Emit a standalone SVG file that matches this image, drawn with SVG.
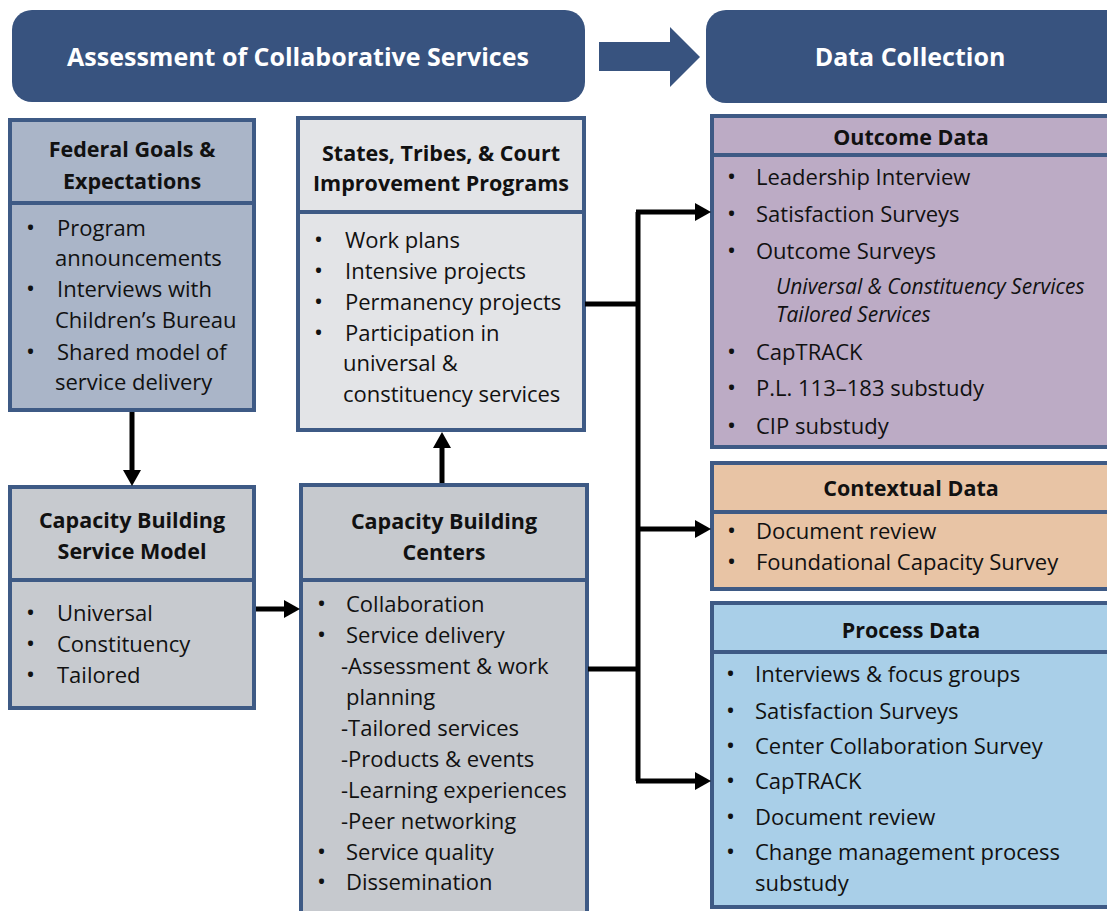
<svg xmlns="http://www.w3.org/2000/svg" width="1107" height="911" viewBox="0 0 1107 911">
<defs>
<style>
.hdr{fill:#38537f}
.hdrt{font-family:"Open Sans","Liberation Sans",sans-serif;font-weight:bold;font-size:25px;fill:#ffffff;text-anchor:middle}
.box{stroke:#3e5a85;stroke-width:4}
.div{stroke:#3e5a85;stroke-width:4;fill:none}
.ttl{font-family:"Open Sans","Liberation Sans",sans-serif;font-weight:bold;font-size:21.5px;fill:#111;text-anchor:middle}
.txt{font-family:"Open Sans","Liberation Sans",sans-serif;font-size:22px;fill:#111}
.bul{font-family:"Open Sans","Liberation Sans",sans-serif;font-size:24px;fill:#111}
.it{font-family:"Open Sans","Liberation Sans",sans-serif;font-size:21px;font-style:italic;fill:#111}
.con{stroke:#000;stroke-width:5;fill:none}
</style>
<marker id="ah" viewBox="0 0 16 18" refX="8" refY="9" markerWidth="16" markerHeight="18" orient="auto" markerUnits="userSpaceOnUse">
<path d="M0,0 L16,9 L0,18 z" fill="#000"/>
</marker>
</defs>
<rect width="1107" height="911" fill="#ffffff"/>

<g id="header-assessment">
<rect class="hdr" x="12" y="10" width="573" height="92" rx="20"/>
<text class="hdrt" x="298" y="66">Assessment of Collaborative Services</text>
</g>
<g id="header-arrow">
<polygon class="hdr" points="599,42 670,42 670,27 700,57 670,87 670,71 599,71"/>
</g>
<g id="header-data">
<rect class="hdr" x="706" y="10" width="440" height="93" rx="20"/>
<text class="hdrt" x="910" y="66">Data Collection</text>
</g>

<g id="federal">
<rect class="box" x="10" y="120" width="244" height="290" fill="#aab5c8"/>
<line class="div" x1="10" y1="203" x2="254" y2="203"/>
<text class="ttl" x="132" y="157">Federal Goals &amp;</text>
<text class="ttl" x="132" y="189">Expectations</text>
<text class="bul" x="26" y="236">•</text><text class="txt" x="57" y="236">Program</text>
<text class="txt" x="55" y="266">announcements</text>
<text class="bul" x="26" y="297">•</text><text class="txt" x="57" y="297">Interviews with</text>
<text class="txt" x="55" y="328">Children’s Bureau</text>
<text class="bul" x="26" y="360">•</text><text class="txt" x="57" y="360">Shared model of</text>
<text class="txt" x="55" y="390">service delivery</text>
</g>

<g id="states">
<rect class="box" x="298" y="118" width="286" height="312" fill="#e3e4e7"/>
<line class="div" x1="298" y1="212" x2="584" y2="212"/>
<text class="ttl" x="441" y="161">States, Tribes, &amp; Court</text>
<text class="ttl" x="441" y="191">Improvement Programs</text>
<text class="bul" x="314" y="248">•</text><text class="txt" x="345" y="248">Work plans</text>
<text class="bul" x="314" y="279">•</text><text class="txt" x="345" y="279">Intensive projects</text>
<text class="bul" x="314" y="310">•</text><text class="txt" x="345" y="310">Permanency projects</text>
<text class="bul" x="314" y="341">•</text><text class="txt" x="345" y="341">Participation in</text>
<text class="txt" x="343" y="371">universal &amp;</text>
<text class="txt" x="343" y="402">constituency services</text>
</g>

<g id="cb-service-model">
<rect class="box" x="10" y="487" width="244" height="221" fill="#c7cacf"/>
<line class="div" x1="10" y1="580" x2="254" y2="580"/>
<text class="ttl" x="132" y="528">Capacity Building</text>
<text class="ttl" x="132" y="559">Service Model</text>
<text class="bul" x="26" y="621">•</text><text class="txt" x="57" y="621">Universal</text>
<text class="bul" x="26" y="652">•</text><text class="txt" x="57" y="652">Constituency</text>
<text class="bul" x="26" y="683">•</text><text class="txt" x="57" y="683">Tailored</text>
</g>

<g id="cb-centers">
<rect class="box" x="301" y="485" width="286" height="440" fill="#c6c9ce"/>
<line class="div" x1="301" y1="580" x2="587" y2="580"/>
<text class="ttl" x="444" y="529">Capacity Building</text>
<text class="ttl" x="444" y="560">Centers</text>
<text class="bul" x="317" y="612">•</text><text class="txt" x="346" y="612">Collaboration</text>
<text class="bul" x="317" y="643">•</text><text class="txt" x="346" y="643">Service delivery</text>
<text class="txt" x="341" y="674">-Assessment &amp; work</text>
<text class="txt" x="346" y="705">planning</text>
<text class="txt" x="341" y="736">-Tailored services</text>
<text class="txt" x="341" y="767">-Products &amp; events</text>
<text class="txt" x="341" y="798">-Learning experiences</text>
<text class="txt" x="341" y="829">-Peer networking</text>
<text class="bul" x="317" y="860">•</text><text class="txt" x="346" y="860">Service quality</text>
<text class="bul" x="317" y="890">•</text><text class="txt" x="346" y="890">Dissemination</text>
</g>

<g id="outcome-data">
<rect class="box" x="712" y="116" width="420" height="331" fill="#bcabc5"/>
<line class="div" x1="712" y1="155" x2="1132" y2="155"/>
<text class="ttl" x="911" y="145">Outcome Data</text>
<text class="bul" x="727" y="185">•</text><text class="txt" x="756" y="185">Leadership Interview</text>
<text class="bul" x="727" y="222">•</text><text class="txt" x="756" y="222">Satisfaction Surveys</text>
<text class="bul" x="727" y="259">•</text><text class="txt" x="756" y="259">Outcome Surveys</text>
<text class="it" x="776" y="294">Universal &amp; Constituency Services</text>
<text class="it" x="776" y="322">Tailored Services</text>
<text class="bul" x="727" y="360">•</text><text class="txt" x="756" y="360">CapTRACK</text>
<text class="bul" x="727" y="396">•</text><text class="txt" x="756" y="396">P.L. 113–183 substudy</text>
<text class="bul" x="727" y="434">•</text><text class="txt" x="756" y="434">CIP substudy</text>
</g>

<g id="contextual-data">
<rect class="box" x="712" y="463" width="420" height="126" fill="#e8c4a5"/>
<line class="div" x1="712" y1="512" x2="1132" y2="512"/>
<text class="ttl" x="911" y="496">Contextual Data</text>
<text class="bul" x="727" y="539">•</text><text class="txt" x="756" y="539">Document review</text>
<text class="bul" x="727" y="570">•</text><text class="txt" x="756" y="570">Foundational Capacity Survey</text>
</g>

<g id="process-data">
<rect class="box" x="712" y="603" width="420" height="304" fill="#a9cfe8"/>
<line class="div" x1="712" y1="652" x2="1132" y2="652"/>
<text class="ttl" x="911" y="638">Process Data</text>
<text class="bul" x="726" y="682">•</text><text class="txt" x="755" y="682">Interviews &amp; focus groups</text>
<text class="bul" x="726" y="719">•</text><text class="txt" x="755" y="719">Satisfaction Surveys</text>
<text class="bul" x="726" y="754">•</text><text class="txt" x="755" y="754">Center Collaboration Survey</text>
<text class="bul" x="726" y="789">•</text><text class="txt" x="755" y="789">CapTRACK</text>
<text class="bul" x="726" y="825">•</text><text class="txt" x="755" y="825">Document review</text>
<text class="bul" x="726" y="860">•</text><text class="txt" x="755" y="860">Change management process</text>
<text class="txt" x="755" y="891">substudy</text>
</g>

<g id="connectors">
<line class="con" x1="132" y1="412" x2="132" y2="478" marker-end="url(#ah)"/>
<line class="con" x1="256" y1="609" x2="292" y2="609" marker-end="url(#ah)"/>
<line class="con" x1="442" y1="483" x2="442" y2="440" marker-end="url(#ah)"/>
<path class="con" d="M585,304 H638"/>
<path class="con" d="M588,669 H638"/>
<path class="con" d="M638,212 V781"/>
<path class="con" d="M636,212 H703" marker-end="url(#ah)"/>
<path class="con" d="M638,529 H703" marker-end="url(#ah)"/>
<path class="con" d="M636,781 H703" marker-end="url(#ah)"/>
</g>
</svg>
